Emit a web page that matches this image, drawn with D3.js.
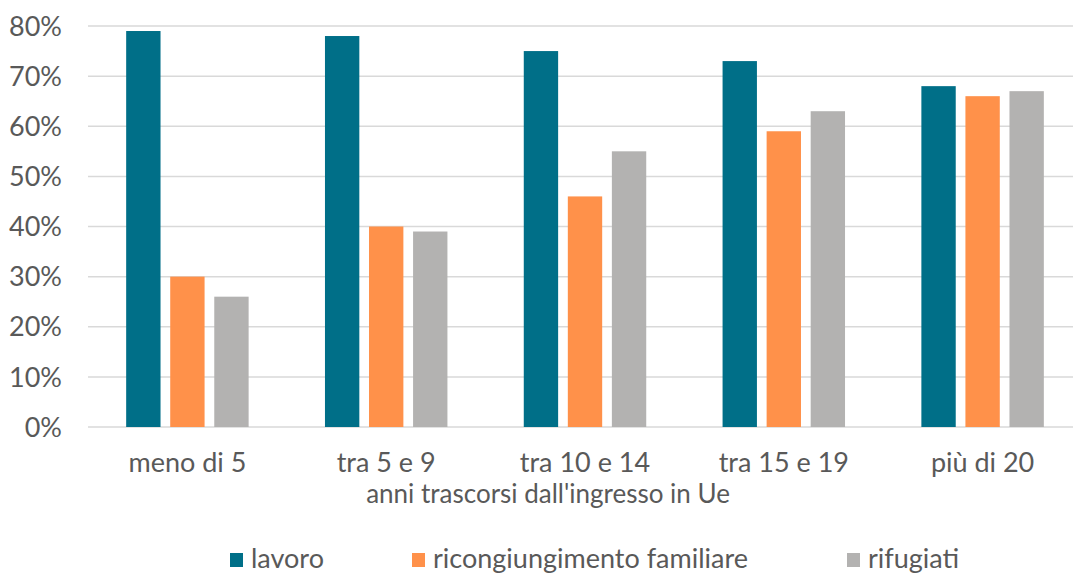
<!DOCTYPE html>
<html>
<head>
<meta charset="utf-8">
<script src="https://cdn.jsdelivr.net/npm/d3@7"></script>
<style>
  body { margin: 0; background: #fff; }
  text { font-family: Lato, "Open Sans", sans-serif; fill: #595959; }
</style>
</head>
<body>
<div id="chart"></div>
<script>
// Data
const categories = ["meno di 5", "tra 5 e 9", "tra 10 e 14", "tra 15 e 19", "più di 20"];
const seriesNames = ["lavoro", "ricongiungimento familiare", "rifugiati"];
const lavoro = [79, 78, 75, 73, 68];
const ricongiungimento = [30, 40, 46, 59, 66];
const rifugiati = [26, 39, 55, 63, 67];
const yTicks = [0, 10, 20, 30, 40, 50, 60, 70, 80];
const colors = ["#006f88", "#ff914a", "#b3b2b1"];

const seriesValues = [lavoro, ricongiungimento, rifugiati];

const W = 1073, H = 574;
const margin = { top: 26, right: -9, bottom: 147, left: 88 };
const width = W - margin.left - margin.right,
      height = H - margin.top - margin.bottom;

const svg = d3.select("#chart").append("svg")
    .attr("width", W)
    .attr("height", H);

const g = svg.append("g")
    .attr("transform", `translate(${margin.left},${margin.top})`);

const x0 = d3.scaleBand()
    .domain(categories)
    .range([0, width])
    .paddingInner(0.384)
    .paddingOuter(0.192);

const x1 = d3.scaleBand()
    .domain(seriesNames)
    .range([0, x0.bandwidth()])
    .paddingInner(0.22);

const y = d3.scaleLinear()
    .domain([0, 80])
    .range([height, 0]);

// Gridlines
g.selectAll(".grid")
    .data(yTicks)
    .enter().append("line")
    .attr("x1", 0)
    .attr("x2", width)
    .attr("y1", d => y(d))
    .attr("y2", d => y(d))
    .attr("stroke", "#d9d9d9")
    .attr("stroke-width", 1.5);

// Y tick labels
g.selectAll(".ytick")
    .data(yTicks)
    .enter().append("text")
    .attr("x", -26)
    .attr("y", d => y(d))
    .attr("dy", "0.36em")
    .attr("text-anchor", "end")
    .style("font-size", "27px")
    .text(d => d + "%");

// Bars
const groups = g.selectAll(".cat")
    .data(categories)
    .enter().append("g")
    .attr("transform", d => `translate(${x0(d)},0)`);

groups.selectAll("rect")
    .data((d, i) => seriesNames.map((s, j) => ({ s, j, v: seriesValues[j][i] })))
    .enter().append("rect")
    .attr("x", d => x1(d.s))
    .attr("width", x1.bandwidth())
    .attr("y", d => y(d.v))
    .attr("height", d => height - y(d.v))
    .attr("fill", d => colors[d.j]);

// Category labels
g.selectAll(".xlabel")
    .data(categories)
    .enter().append("text")
    .attr("x", d => x0(d) + x0.bandwidth() / 2)
    .attr("y", 472 - margin.top)
    .attr("text-anchor", "middle")
    .style("font-size", "27px")
    .text(d => d);

// Axis title
svg.append("text")
    .attr("x", 548)
    .attr("y", 503)
    .attr("text-anchor", "middle")
    .style("font-size", "26px")
    .text("anni trascorsi dall'ingresso in Ue");

// Legend
const legendX = [230, 412, 847];
const legend = svg.selectAll(".legend")
    .data(seriesNames)
    .enter().append("g")
    .attr("transform", (d, i) => `translate(${legendX[i]},553)`);

legend.append("rect")
    .attr("width", 13)
    .attr("height", 14)
    .attr("fill", (d, i) => colors[i]);

legend.append("text")
    .attr("x", 21)
    .attr("y", 15)
    .style("font-size", "27px")
    .text(d => d);
</script>
</body>
</html>
